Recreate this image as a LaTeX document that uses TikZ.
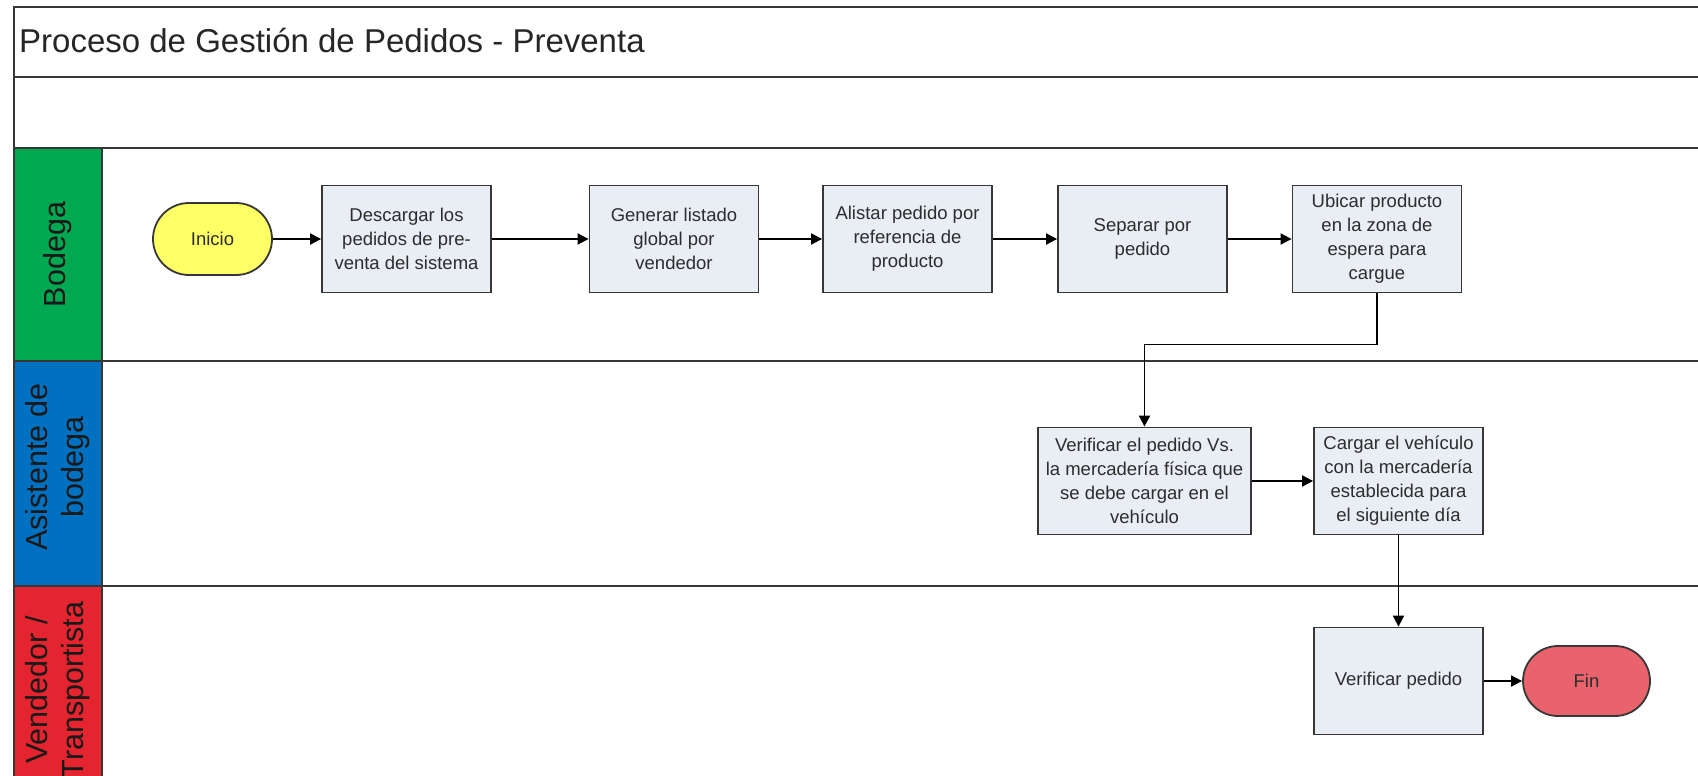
\documentclass[tikz,border=0pt]{standalone}
\usepackage{fontspec}
\setmainfont{Liberation Sans}
\usetikzlibrary{arrows.meta,shapes.misc}

\definecolor{lanegreen}{RGB}{0,168,82}
\definecolor{laneblue}{RGB}{0,112,192}
\definecolor{lanered}{RGB}{228,36,46}
\definecolor{taskfill}{RGB}{233,237,244}
\definecolor{startfill}{RGB}{255,255,102}
\definecolor{endfill}{RGB}{232,99,107}
\definecolor{rulegray}{RGB}{55,55,55}
\definecolor{textgray}{RGB}{45,45,45}

\tikzset{
  rule/.style={draw=rulegray, line width=2pt},
  task/.style={draw=rulegray, line width=1.8pt, fill=taskfill, rectangle,
    minimum width=169pt, minimum height=107pt, inner sep=0pt, align=center,
    text=textgray, font=\fontsize{18.5}{24}\selectfont},
  terminal/.style={draw=rulegray, line width=1.8pt, rounded rectangle,
    minimum height=72pt, inner sep=0pt, text=textgray,
    font=\fontsize{18.5}{24}\selectfont},
  lanelabel/.style={rotate=90, align=center, text=black!90,
    font=\fontsize{30.5}{36}\selectfont},
  flow/.style={draw=black, line width=1.8pt, -{Triangle[length=11pt,width=11pt]}},
}

\begin{document}
\begin{tikzpicture}[x=1pt,y=-1pt]
\useasboundingbox (0,0) rectangle (1698,776);
\clip (0,0) rectangle (1698,776);
\fill[white] (0,0) rectangle (1698,776);

% lane header colours
\fill[lanegreen] (13.5,148) rectangle (102,361);
\fill[laneblue]  (13.5,361) rectangle (102,586);
\fill[lanered]   (13.5,586) rectangle (102,800);

% pool frame and lane separators
\draw[rule] (1720,7) -- (13.5,7) -- (13.5,800);
\draw[rule] (13.5,77) -- (1720,77);
\draw[rule] (13.5,148) -- (1720,148);
\draw[rule] (13.5,361) -- (1720,361);
\draw[rule] (13.5,586) -- (1720,586);
\draw[rule] (102,148) -- (102,800);

% title
\node[anchor=west, inner sep=0pt, text=black!85, font=\fontsize{33}{37}\selectfont]
  (title) at (19,41) {Proceso de Gestión de Pedidos - Preventa};

% lane labels
\node[lanelabel] (lbod) at (58,254.5) {Bodega};
\node[lanelabel] (lasi) at (58,467) {Asistente de\\bodega};
\node[lanelabel] (lven) at (58,690) {Vendedor /\\Transportista};

% Bodega lane
\node[terminal, fill=startfill, minimum width=119pt] (ini) at (212.5,239) {Inicio};
\node[task] (b1) at (406.5,239) {Descargar los\\pedidos de pre-\\venta del sistema};
\node[task] (b2) at (674,239) {Generar listado\\global por\\vendedor};
\node[task] (b3) at (907.5,239) {Alistar pedido por\\referencia de\\producto};
\node[task] (b4) at (1142.5,239) {Separar por\\pedido};
\node[task] (b5) at (1377,239) {Ubicar producto\\en la zona de\\espera para\\cargue};

% Asistente de bodega lane
\node[task, minimum width=213pt] (ver) at (1144.5,481) {Verificar el pedido Vs.\\la mercadería física que\\se debe cargar en el\\vehículo};
\node[task] (car) at (1398.5,481) {Cargar el vehículo\\con la mercadería\\establecida para\\el siguiente día};

% Vendedor / Transportista lane
\node[task] (vp) at (1398.5,681) {Verificar pedido};
\node[terminal, fill=endfill, minimum width=127pt, minimum height=70pt] (fin) at (1586.5,681) {Fin};

% connectors
\draw[flow] (ini) -- (b1);
\draw[flow] (b1) -- (b2);
\draw[flow] (b2) -- (b3);
\draw[flow] (b3) -- (b4);
\draw[flow] (b4) -- (b5);
\draw[flow] (b5.south) -- ++(0,51) -| (ver.north);
\draw[flow] (ver) -- (car);
\draw[flow] (car) -- (vp);
\draw[flow] (vp) -- (fin);
\end{tikzpicture}
\end{document}
